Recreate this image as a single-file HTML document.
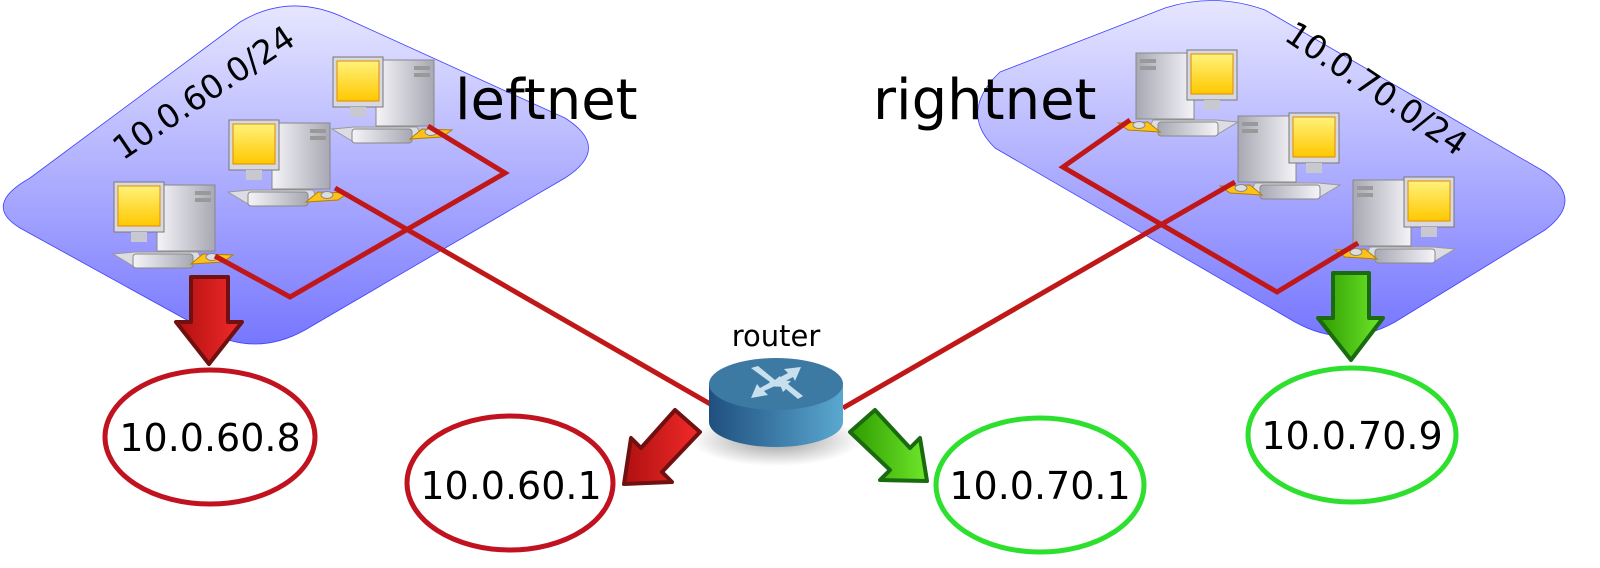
<!DOCTYPE html>
<html><head><meta charset="utf-8"><style>
html,body{margin:0;padding:0;background:#fff;overflow:hidden;}
svg{display:block;}
text{font-family:"DejaVu Sans","Liberation Sans",sans-serif;}
</style></head><body>
<svg width="1600" height="568" viewBox="0 0 1600 568" xmlns="http://www.w3.org/2000/svg">
<defs>
<linearGradient id="bg" x1="0" y1="0" x2="0" y2="1">
<stop offset="0" stop-color="#e6e6ff"/><stop offset="1" stop-color="#7777ff"/></linearGradient>
<linearGradient id="scr" x1="0" y1="0" x2="0" y2="1">
<stop offset="0" stop-color="#fff27a"/><stop offset="1" stop-color="#ffc800"/></linearGradient>
<linearGradient id="gry" x1="0" y1="0" x2="1" y2="0">
<stop offset="0" stop-color="#f4f4f8"/><stop offset="1" stop-color="#a8a8b4"/></linearGradient>
<linearGradient id="cyl" x1="0" y1="0" x2="1" y2="0">
<stop offset="0" stop-color="#1f4f7f"/><stop offset="1" stop-color="#5aa8d0"/></linearGradient>
<linearGradient id="red" x1="0" y1="0" x2="1" y2="0">
<stop offset="0" stop-color="#b01010"/><stop offset="1" stop-color="#f22a2a"/></linearGradient>
<linearGradient id="grn" x1="0" y1="0" x2="1" y2="0">
<stop offset="0" stop-color="#2e9a00"/><stop offset="1" stop-color="#6ee82a"/></linearGradient>
<radialGradient id="shd" cx="0.5" cy="0.5" r="0.5">
<stop offset="0" stop-color="#000" stop-opacity="0.4"/><stop offset="1" stop-color="#000" stop-opacity="0"/></radialGradient>
<g id="pc">
<path d="M0,72 L22,70 L85,70 L90,80 L20,84 Z" fill="#dcdce4" stroke="#999" stroke-width="1"/>
<rect x="20" y="72" width="60" height="14" rx="3" fill="url(#gry)" stroke="#888" stroke-width="1"/>
<rect x="44" y="3" width="58" height="66" fill="url(#gry)" stroke="#888" stroke-width="1"/>
<rect x="82" y="9" width="16" height="4" fill="#999"/><rect x="82" y="16" width="16" height="4" fill="#999"/>
<rect x="1" y="0" width="50" height="50" fill="#d8d8e0" stroke="#777" stroke-width="1"/>
<rect x="5" y="4" width="42" height="40" fill="url(#scr)" stroke="#e08a00" stroke-width="1"/>
<rect x="18" y="50" width="16" height="10" fill="#c8c8d0"/>
<path d="M78,82 L110,80 L120,73 L90,72 Z" fill="#ffc21a" stroke="#b08000" stroke-width="1"/>
<ellipse cx="99" cy="75" rx="6" ry="3.5" fill="#ddd" stroke="#888"/>
</g>
</defs>

<path d="M30,178 L240,22 Q290,-8 345,18 L565,118 Q612,148 565,178 L305,330 Q255,358 205,330 L20,228 Q-18,205 30,178 Z" fill="url(#bg)" stroke="#4040ff" stroke-width="0.8"/>
<path d="M1000,72 L1165,8 Q1215,-8 1265,10 L1545,172 Q1585,200 1545,230 L1395,322 Q1345,350 1295,322 L995,148 Q958,112 1000,72 Z" fill="url(#bg)" stroke="#4040ff" stroke-width="0.8"/>

<text x="455" y="119" font-size="56">leftnet</text>
<text x="873" y="119" font-size="56">rightnet</text>
<text transform="translate(210,102) rotate(-34)" text-anchor="middle" font-size="33">10.0.60.0/24</text>
<text transform="translate(1370,98) rotate(34)" text-anchor="middle" font-size="33">10.0.70.0/24</text>

<g transform="translate(113,182)"><use href="#pc"/></g>
<g transform="translate(228,120)"><use href="#pc"/></g>
<g transform="translate(332,57)"><use href="#pc"/></g>
<g transform="translate(1238,50) scale(-1,1)"><use href="#pc"/></g>
<g transform="translate(1340,113) scale(-1,1)"><use href="#pc"/></g>
<g transform="translate(1455,177) scale(-1,1)"><use href="#pc"/></g>

<g stroke="#c01818" stroke-width="5" fill="none" stroke-linejoin="miter">
<polyline points="428,126 505,173 290,297 215,256"/>
<line x1="335" y1="188" x2="712" y2="405"/>
<polyline points="1130,120 1063,167 1277,292 1358,243"/>
<line x1="1235" y1="182" x2="843" y2="408"/>
</g>

<ellipse cx="776" cy="440" rx="85" ry="26" fill="url(#shd)"/>
<path d="M709,385 L709,422 A67,25 0 0 0 843,422 L843,385 Z" fill="url(#cyl)"/>
<ellipse cx="776" cy="384" rx="67" ry="26" fill="#3d7aa3"/>
<g fill="#c8e0ee">
<path d="M751,368 L770,382 L766,386 L784,387 L780,376 L775,380 L758,366 Z"/>
<path d="M801,367 L784,369 L788,373 L773,381 L778,385 L793,377 L795,381 Z"/>
<path d="M751,398 L768,395 L764,391 L775,386 L771,382 L760,388 L757,384 Z"/>
<path d="M803,396 L788,384 L791,381 L778,380 L783,392 L786,389 L798,399 Z"/>
</g>
<text x="776" y="346" font-size="29" text-anchor="middle">router</text>

<path d="M191,277 L228,277 L228,322 L242,322 L209,364 L176,322 L191,322 Z" fill="url(#red)" stroke="#701010" stroke-width="4" stroke-linejoin="round"/>
<path d="M1333,273 L1369,273 L1369,318 L1383,318 L1351,360 L1318,318 L1333,318 Z" fill="url(#grn)" stroke="#1a6a10" stroke-width="4" stroke-linejoin="round"/>
<path d="M700,432 L675,410 L641,448 L631,438 L624,484 L672,482 L662,472 Z" fill="url(#red)" stroke="#701010" stroke-width="4" stroke-linejoin="round"/>
<path d="M850,432 L875,410 L910,448 L920,438 L927,481 L880,480 L890,470 Z" fill="url(#grn)" stroke="#1a6a10" stroke-width="4" stroke-linejoin="round"/>

<g fill="none" stroke-width="5">
<ellipse cx="210" cy="437" rx="105" ry="67" stroke="#c0121f"/>
<ellipse cx="510" cy="483" rx="103" ry="67" stroke="#c0121f"/>
<ellipse cx="1040" cy="485" rx="104" ry="67" stroke="#2ee02e"/>
<ellipse cx="1352" cy="435" rx="104" ry="67" stroke="#2ee02e"/>
</g>
<g font-size="38" text-anchor="middle">
<text x="210" y="451">10.0.60.8</text>
<text x="511" y="499">10.0.60.1</text>
<text x="1040" y="499">10.0.70.1</text>
<text x="1352" y="449">10.0.70.9</text>
</g>
</svg>
</body></html>
